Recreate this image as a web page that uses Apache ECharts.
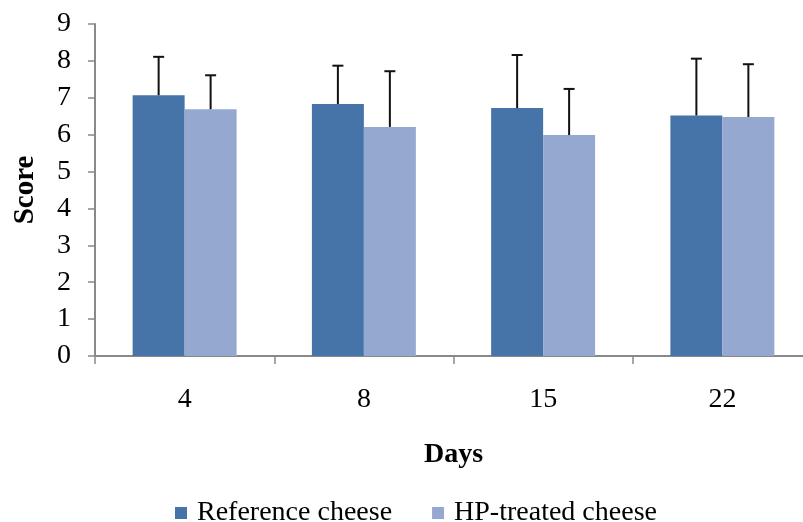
<!DOCTYPE html>
<html>
<head>
<meta charset="utf-8">
<script src="https://cdn.jsdelivr.net/npm/echarts@6/dist/echarts.min.js"></script>
<style>
html,body{margin:0;padding:0;background:#fff;overflow:hidden;width:803px;height:522px;}
#chart{width:812px;height:522px;}
</style>
</head>
<body>
<div id="chart"></div>
<script>
const categories = ['4', '8', '15', '22'];
const seriesNames = ['Reference cheese', 'HP-treated cheese'];
const referenceValues = [7.07, 6.83, 6.72, 6.52];
const referenceUpper = [8.11, 7.87, 8.16, 8.06];
const hpValues = [6.69, 6.21, 5.99, 6.48];
const hpUpper = [7.61, 7.72, 7.24, 7.91];
const yTicks = [0, 1, 2, 3, 4, 5, 6, 7, 8, 9];

const FONT = 'Liberation Serif';
const GAP = 0.42;
const colors = ['#4673A8', '#95A9D0'];

function errorSeries(values, upper, sign) {
  return {
    type: 'custom',
    silent: true,
    z: 5,
    data: values.map((v, i) => [i, v, upper[i]]),
    renderItem: function (params, api) {
      const cat = api.value(0);
      const base = api.coord([cat, api.value(1)]);
      const top = api.coord([cat, api.value(2)]);
      const bandW = api.size([1, 0])[0];
      const barW = bandW * (1 - GAP) / 2;
      const x = base[0] + sign * barW / 2;
      const cap = 5.5;
      const style = { stroke: '#111', lineWidth: 2 };
      return {
        type: 'group',
        children: [
          { type: 'line', shape: { x1: x, y1: base[1], x2: x, y2: top[1] }, style: style },
          { type: 'line', shape: { x1: x - cap, y1: top[1], x2: x + cap, y2: top[1] }, style: style }
        ]
      };
    }
  };
}

const chart = echarts.init(document.getElementById('chart'));
chart.setOption({
  animation: false,
  backgroundColor: '#fff',
  textStyle: { fontFamily: FONT },
  grid: { left: 95, right: 0, top: 24, bottom: 166, containLabel: false },
  legend: {
    data: seriesNames,
    left: 170,
    top: 494,
    itemWidth: 12,
    itemHeight: 12,
    itemGap: 40,
    icon: 'rect',
    textStyle: { fontFamily: FONT, fontSize: 28, color: '#000', padding: [0, 0, 0, 5] }
  },
  xAxis: {
    type: 'category',
    data: categories,
    name: 'Days',
    nameLocation: 'middle',
    nameGap: 85,
    nameTextStyle: { fontFamily: FONT, fontSize: 28, fontWeight: 'bold', color: '#000', verticalAlign: 'top' },
    axisLine: { lineStyle: { color: '#898989', width: 2 } },
    axisTick: { show: true, length: 8, lineStyle: { color: '#898989', width: 1.5 } },
    axisLabel: { fontFamily: FONT, fontSize: 28, color: '#000', margin: 30 }
  },
  yAxis: {
    type: 'value',
    min: 0,
    max: 9,
    interval: 1,
    name: 'Score',
    nameLocation: 'middle',
    nameGap: 55,
    nameTextStyle: { fontFamily: FONT, fontSize: 29, fontWeight: 'bold', color: '#000' },
    axisLine: { show: true, lineStyle: { color: '#898989', width: 2 } },
    axisTick: { show: true, length: 7, lineStyle: { color: '#898989', width: 1.5 } },
    splitLine: { show: false },
    axisLabel: {
      fontFamily: FONT, fontSize: 28, color: '#000', margin: 24,
      formatter: function (v) { return yTicks.indexOf(v) >= 0 ? String(v) : ''; }
    }
  },
  series: [
    {
      name: seriesNames[0], type: 'bar', data: referenceValues,
      barGap: '0%', barCategoryGap: (GAP * 100) + '%',
      itemStyle: { color: colors[0] }
    },
    {
      name: seriesNames[1], type: 'bar', data: hpValues,
      barGap: '0%', barCategoryGap: (GAP * 100) + '%',
      itemStyle: { color: colors[1] }
    },
    errorSeries(referenceValues, referenceUpper, -1),
    errorSeries(hpValues, hpUpper, 1)
  ]
});
</script>
</body>
</html>
